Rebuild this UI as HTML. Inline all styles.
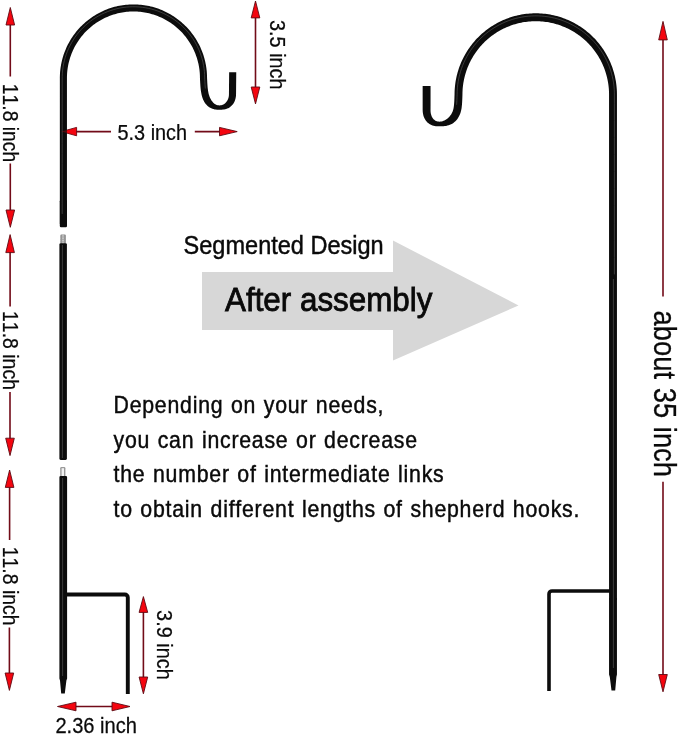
<!DOCTYPE html>
<html>
<head>
<meta charset="utf-8">
<title>Segmented Design</title>
<style>
html,body{margin:0;padding:0;background:#fff;}
body{width:679px;height:736px;overflow:hidden;font-family:"Liberation Sans",sans-serif;}
svg{display:block;position:absolute;left:0;top:0;will-change:transform;opacity:0.999;}
text{font-family:"Liberation Sans",sans-serif;fill:#0a0a0a;font-kerning:none;}
.rod{fill:none;stroke:#0c0c0c;stroke-linecap:butt;stroke-linejoin:round;}
.hl{fill:none;stroke:#585858;stroke-width:0.9;stroke-linecap:butt;opacity:.7;}
.al{stroke:#720b18;stroke-width:1.6;fill:none;}
.ah{fill:#f4050f;stroke:#5e0a13;stroke-width:0.9;stroke-linejoin:miter;}
</style>
</head>
<body>
<svg width="679" height="736" viewBox="0 0 679 736">
<rect width="679" height="736" fill="#ffffff"/>

<!-- big gray arrow -->
<polygon points="202,272 393,272 393,240.5 518.5,305.5 393,360.5 393,330 202,330" fill="#d7d7d7"/>

<!-- arrow under rod -->
<polygon class="ah" points="61.5,131.6 76.6,127.4 76.6,135.8"/>

<!-- LEFT HOOK -->
<g id="lefthook">
<polygon id="lh-poly" fill="#0c0c0c" points="66.95,224.00 66.95,218.97 66.95,213.93 66.95,208.90 66.95,203.86 66.95,198.83 66.95,193.79 66.95,188.76 66.95,183.72 66.95,178.69 66.95,173.66 66.95,168.62 66.95,163.59 66.95,158.55 66.95,153.52 66.95,148.48 66.95,143.45 66.95,138.41 66.95,133.38 66.95,128.34 66.95,123.31 66.95,118.28 66.95,113.24 66.95,108.21 66.95,103.17 66.95,98.14 66.95,93.10 66.95,88.07 66.95,83.03 66.95,78.01 66.97,76.50 67.02,75.00 67.10,73.49 67.22,72.00 67.37,70.50 67.56,69.01 67.78,67.52 68.03,66.04 68.32,64.57 68.64,63.10 68.99,61.64 69.38,60.18 69.80,58.74 70.25,57.31 70.74,55.88 71.25,54.47 71.80,53.07 72.38,51.69 72.99,50.31 73.63,48.95 74.30,47.61 75.00,46.28 75.73,44.97 76.50,43.67 77.29,42.39 78.11,41.13 78.95,39.89 79.83,38.67 80.73,37.47 81.66,36.29 82.62,35.13 83.60,33.99 84.60,32.87 85.64,31.78 86.69,30.71 87.77,29.67 88.88,28.65 90.01,27.65 91.15,26.68 92.32,25.74 93.52,24.83 94.73,23.94 95.96,23.08 97.21,22.24 98.48,21.44 99.77,20.66 101.07,19.91 102.39,19.20 103.73,18.51 105.08,17.85 106.45,17.23 107.83,16.63 109.22,16.07 110.63,15.54 112.04,15.04 113.47,14.57 114.91,14.14 116.36,13.73 117.82,13.36 119.28,13.03 120.75,12.72 122.23,12.45 123.72,12.22 125.20,12.01 126.70,11.84 128.20,11.71 129.69,11.61 131.20,11.54 132.70,11.50 134.20,11.50 135.70,11.54 137.21,11.61 138.70,11.71 140.20,11.84 141.70,12.01 143.18,12.22 144.67,12.45 146.15,12.72 147.62,13.03 149.08,13.36 150.54,13.73 151.99,14.14 153.43,14.57 154.86,15.04 156.27,15.54 157.68,16.07 159.07,16.63 160.45,17.23 161.82,17.85 163.17,18.51 164.51,19.20 165.83,19.91 167.13,20.66 168.42,21.44 169.69,22.24 170.94,23.08 172.17,23.94 173.38,24.83 174.58,25.74 175.75,26.68 176.89,27.65 178.02,28.65 179.13,29.67 180.21,30.71 181.26,31.78 182.30,32.87 183.30,33.99 184.28,35.13 185.24,36.29 186.17,37.47 187.07,38.67 187.95,39.89 188.79,41.13 189.61,42.39 190.40,43.67 191.17,44.97 191.90,46.28 192.60,47.61 193.27,48.95 193.91,50.31 194.52,51.69 195.10,53.07 195.65,54.47 196.16,55.88 196.65,57.31 197.10,58.74 197.52,60.18 197.91,61.64 198.26,63.10 198.58,64.57 198.87,66.04 199.12,67.52 199.34,69.01 199.53,70.50 199.68,72.00 199.80,73.49 199.88,75.00 199.93,76.50 199.95,78.09 200.00,79.11 200.05,80.01 200.09,80.88 200.14,81.73 200.18,82.55 200.23,83.34 200.27,84.11 200.32,84.86 200.37,85.59 200.42,86.30 200.48,87.00 200.54,87.68 200.60,88.34 200.67,88.99 200.75,89.63 200.82,90.26 200.91,90.88 201.00,91.49 201.10,92.08 201.31,93.37 201.59,94.69 201.91,95.98 202.28,97.24 202.71,98.46 203.19,99.65 203.73,100.79 204.33,101.88 204.99,102.93 205.72,103.91 206.50,104.84 207.35,105.69 208.26,106.47 209.23,107.17 210.24,107.79 211.30,108.32 212.40,108.75 213.53,109.11 214.68,109.38 215.85,109.57 217.04,109.70 218.26,109.78 219.49,109.80 220.66,109.78 221.80,109.72 222.92,109.62 224.02,109.46 225.10,109.24 226.16,108.95 227.19,108.59 228.19,108.15 229.15,107.63 230.06,107.03 230.93,106.36 231.73,105.61 232.48,104.79 233.16,103.91 233.76,102.97 234.30,101.98 234.77,100.94 235.16,99.87 235.48,98.75 235.72,97.60 235.90,96.43 236.01,95.22 236.04,94.06 236.06,92.89 236.07,91.75 236.08,90.61 236.09,89.46 236.10,88.32 236.11,87.18 236.12,86.04 236.13,84.90 236.14,83.75 236.16,82.61 236.17,81.47 236.18,80.33 236.19,79.19 236.20,78.04 236.21,76.90 236.22,75.76 236.23,74.62 236.24,73.47 236.25,72.33 229.15,72.27 229.14,73.41 229.13,74.55 229.12,75.69 229.11,76.84 229.10,77.98 229.09,79.12 229.08,80.26 229.07,81.40 229.06,82.55 229.04,83.69 229.03,84.83 229.02,85.97 229.01,87.11 229.00,88.26 228.99,89.40 228.98,90.54 228.97,91.68 228.96,92.83 228.96,93.94 228.94,94.83 228.87,95.63 228.77,96.40 228.64,97.13 228.47,97.82 228.26,98.48 228.03,99.11 227.77,99.71 227.49,100.28 227.18,100.83 226.84,101.35 226.47,101.86 226.07,102.34 225.64,102.81 225.16,103.25 224.64,103.68 224.07,104.08 223.44,104.44 222.76,104.76 222.02,105.02 221.23,105.23 220.39,105.36 219.51,105.40 218.56,105.35 217.68,105.20 216.86,104.97 216.09,104.66 215.38,104.30 214.73,103.88 214.13,103.43 213.57,102.93 213.04,102.41 212.55,101.85 212.08,101.26 211.63,100.63 211.20,99.97 210.79,99.27 210.40,98.53 210.02,97.74 209.66,96.91 209.33,96.03 209.03,95.11 208.75,94.14 208.51,93.13 208.29,92.08 208.10,90.92 208.01,90.39 207.94,89.87 207.86,89.34 207.79,88.79 207.73,88.22 207.67,87.63 207.61,87.03 207.55,86.40 207.50,85.76 207.45,85.09 207.41,84.39 207.36,83.67 207.31,82.92 207.27,82.15 207.23,81.35 207.18,80.51 207.14,79.65 207.09,78.75 207.05,77.91 207.03,76.34 206.97,74.67 206.88,73.01 206.75,71.36 206.58,69.70 206.37,68.05 206.13,66.40 205.85,64.76 205.53,63.13 205.18,61.51 204.79,59.89 204.36,58.28 203.90,56.68 203.40,55.10 202.86,53.52 202.29,51.96 201.68,50.41 201.04,48.88 200.37,47.36 199.66,45.85 198.91,44.36 198.14,42.89 197.33,41.44 196.49,40.01 195.61,38.59 194.70,37.20 193.77,35.82 192.80,34.47 191.80,33.14 190.77,31.83 189.71,30.55 188.63,29.29 187.51,28.06 186.37,26.85 185.20,25.66 184.00,24.51 182.78,23.38 181.53,22.28 180.26,21.21 178.97,20.16 177.65,19.15 176.31,18.16 174.94,17.21 173.56,16.29 172.15,15.40 170.73,14.54 169.29,13.71 167.82,12.92 166.34,12.16 164.85,11.43 163.34,10.74 161.81,10.08 160.27,9.46 158.71,8.87 157.14,8.32 155.56,7.80 153.97,7.32 152.37,6.87 150.75,6.46 149.13,6.09 147.50,5.75 145.87,5.45 144.22,5.19 142.58,4.97 140.92,4.78 139.27,4.63 137.61,4.52 135.94,4.44 134.28,4.40 132.62,4.40 130.96,4.44 129.29,4.52 127.63,4.63 125.98,4.78 124.32,4.97 122.68,5.19 121.03,5.45 119.40,5.75 117.77,6.09 116.15,6.46 114.53,6.87 112.93,7.32 111.34,7.80 109.76,8.32 108.19,8.87 106.63,9.46 105.09,10.08 103.56,10.74 102.05,11.43 100.56,12.16 99.08,12.92 97.61,13.71 96.17,14.54 94.75,15.40 93.34,16.29 91.96,17.21 90.59,18.16 89.25,19.15 87.93,20.16 86.64,21.21 85.37,22.28 84.12,23.38 82.90,24.51 81.70,25.66 80.53,26.85 79.39,28.06 78.27,29.29 77.19,30.55 76.13,31.83 75.10,33.14 74.10,34.47 73.13,35.82 72.20,37.20 71.29,38.59 70.41,40.01 69.57,41.44 68.76,42.89 67.99,44.36 67.24,45.85 66.53,47.36 65.86,48.88 65.22,50.41 64.61,51.96 64.04,53.52 63.50,55.10 63.00,56.68 62.54,58.28 62.11,59.89 61.72,61.51 61.37,63.13 61.05,64.76 60.77,66.40 60.53,68.05 60.32,69.70 60.15,71.36 60.02,73.01 59.93,74.67 59.87,76.34 59.85,77.99 59.85,83.03 59.85,88.07 59.85,93.10 59.85,98.14 59.85,103.17 59.85,108.21 59.85,113.24 59.85,118.28 59.85,123.31 59.85,128.34 59.85,133.38 59.85,138.41 59.85,143.45 59.85,148.48 59.85,153.52 59.85,158.55 59.85,163.59 59.85,168.62 59.85,173.66 59.85,178.69 59.85,183.72 59.85,188.76 59.85,193.79 59.85,198.83 59.85,203.86 59.85,208.90 59.85,213.93 59.85,218.97 59.85,224.00"/>
<rect x="59.8" y="200" width="7.2" height="27.2" rx="1.2" fill="#0c0c0c"/>
<path id="lh-hl" class="hl" d="M62.20 213.93 L62.20 203.86 L62.20 193.79 L62.20 183.72 L62.20 173.66 L62.20 163.59 L62.20 153.52 L62.20 143.45 L62.20 133.38 L62.20 123.31 L62.20 113.24 L62.20 103.17 L62.20 93.10 L62.20 83.03 L62.22 76.39 L62.36 73.17 L62.65 69.97 L63.09 66.77 L63.67 63.61 L64.39 60.47 L65.25 57.37 L66.26 54.30 L67.39 51.29 L68.67 48.34 L70.08 45.44 L71.61 42.61 L73.27 39.85 L75.06 37.17 L76.96 34.57 L78.98 32.06 L81.12 29.65 L83.35 27.33 L85.69 25.12 L88.13 23.02 L90.66 21.03 L93.28 19.15 L95.98 17.40 L98.76 15.77 L101.61 14.26 L104.52 12.89 L107.49 11.65 L110.52 10.54 L113.59 9.57 L116.70 8.75 L119.85 8.06 L123.02 7.52 L126.22 7.12 L129.43 6.86 L132.64 6.75 L135.87 6.79 L139.08 6.97 L142.28 7.30 L145.47 7.77 L148.63 8.39 L151.76 9.14 L154.85 10.04 L157.90 11.08 L160.90 12.25 L163.85 13.56 L166.73 15.00 L169.54 16.57 L172.28 18.26 L174.94 20.07 L177.51 22.01 L180.00 24.06 L182.39 26.22 L184.68 28.48 L186.86 30.85 L188.94 33.31 L190.90 35.86 L192.75 38.50 L194.47 41.22 L196.07 44.01 L197.54 46.88 L198.88 49.81 L200.09 52.79 L201.16 55.83 L202.10 58.91 L202.89 62.03 L203.54 65.19 L204.05 68.37 L204.41 71.57 L204.63 74.78 L204.70 77.97 L204.79 79.77 L204.88 81.47 L204.97 83.06 L205.06 84.55 L205.16 85.94 L205.27 87.24 L205.39 88.47"/>
<!-- screw 1 -->
<rect x="60.4" y="234.6" width="5.4" height="9.4" rx="1" fill="#8a8a8a"/>
<rect x="61.8" y="235.2" width="2.4" height="8.8" fill="#c4c4c4"/>
<path d="M60.4 237 H65.8 M60.4 239.4 H65.8 M60.4 241.8 H65.8" stroke="#9a9a9a" stroke-width="0.7" fill="none"/>
<!-- seg 2 -->
<rect x="59.4" y="243.3" width="7.5" height="216.6" rx="1.3" fill="#0c0c0c"/>
<path class="hl" d="M62.4 245 L62.4 458"/>
<!-- screw 2 -->
<rect x="60.2" y="467" width="5.2" height="10" rx="1.2" fill="#9a9a9a"/>
<rect x="61.6" y="468.2" width="2.4" height="8.8" fill="#f2f2f2"/>
<!-- seg 3 with taper -->
<path d="M60.6 476 H65.9 A1.2 1.2 0 0 1 67.1 477.2 V678.5 L66.4 680.5 L64.8 693.5 H61.2 L60 680.5 L59.4 678.5 V477.2 A1.2 1.2 0 0 1 60.6 476 Z" fill="#0c0c0c"/>
<path class="hl" d="M62.6 478 L62.6 676"/>
<!-- prong -->
<path class="rod" stroke-width="3.9" d="M64 594.5 L124.8 594.5 A3 3 0 0 1 127.8 597.5 L127.8 694"/>
</g>
<polygon points="61.5,131.6 76.6,127.4 76.6,135.8" fill="#f20a16" opacity="0.28"/>

<!-- RIGHT HOOK -->
<g id="righthook">
<polygon id="rh-poly" fill="#0c0c0c" points="616.95,600.00 616.95,591.43 616.95,582.86 616.95,574.30 616.95,565.73 616.95,557.16 616.95,548.59 616.95,540.03 616.95,531.46 616.95,522.89 616.95,514.32 616.95,505.75 616.95,497.19 616.95,488.62 616.95,480.05 616.95,471.48 616.95,462.92 616.95,454.35 616.95,445.78 616.95,437.21 616.95,428.64 616.95,420.08 616.95,411.51 616.95,402.94 616.95,394.37 616.95,385.81 616.95,377.24 616.95,368.67 616.95,360.10 616.95,351.53 616.95,342.97 616.95,334.40 616.95,325.83 616.95,317.26 616.95,308.69 616.95,300.13 616.95,291.56 616.95,282.99 616.95,274.42 616.95,265.86 616.95,257.29 616.95,248.72 616.95,240.15 616.95,231.58 616.95,223.02 616.95,214.45 616.95,205.88 616.95,197.31 616.95,188.75 616.95,180.18 616.95,171.61 616.95,163.04 616.95,154.47 616.95,145.91 616.95,137.34 616.95,128.77 616.95,120.20 616.95,111.64 616.95,103.07 616.95,94.49 616.93,92.79 616.88,91.08 616.79,89.37 616.66,87.66 616.50,85.96 616.30,84.26 616.07,82.56 615.80,80.87 615.49,79.18 615.15,77.51 614.78,75.84 614.36,74.17 613.92,72.52 613.44,70.88 612.92,69.25 612.37,67.62 611.79,66.01 611.17,64.42 610.52,62.83 609.84,61.26 609.12,59.71 608.37,58.17 607.59,56.65 606.77,55.14 605.93,53.65 605.05,52.18 604.14,50.73 603.21,49.30 602.24,47.89 601.24,46.50 600.21,45.13 599.16,43.78 598.07,42.45 596.96,41.15 595.83,39.87 594.66,38.62 593.47,37.39 592.25,36.18 591.01,35.00 589.74,33.85 588.45,32.73 587.14,31.63 585.80,30.56 584.44,29.52 583.06,28.51 581.66,27.52 580.24,26.57 578.80,25.65 577.33,24.76 575.85,23.90 574.36,23.07 572.84,22.27 571.31,21.50 569.76,20.77 568.20,20.07 566.63,19.40 565.04,18.77 563.43,18.16 561.82,17.60 560.19,17.07 558.55,16.57 556.90,16.10 555.25,15.68 553.58,15.28 551.91,14.92 550.22,14.60 548.54,14.31 546.84,14.06 545.15,13.85 543.44,13.67 541.74,13.52 540.03,13.41 538.32,13.34 536.61,13.30 534.89,13.30 533.18,13.34 531.47,13.41 529.76,13.52 528.06,13.67 526.35,13.85 524.66,14.06 522.96,14.31 521.28,14.60 519.59,14.92 517.92,15.28 516.25,15.68 514.60,16.10 512.95,16.57 511.31,17.07 509.68,17.60 508.07,18.16 506.46,18.77 504.87,19.40 503.30,20.07 501.74,20.77 500.19,21.50 498.66,22.27 497.14,23.07 495.65,23.90 494.17,24.76 492.70,25.65 491.26,26.57 489.84,27.52 488.44,28.51 487.06,29.52 485.70,30.56 484.36,31.63 483.05,32.73 481.76,33.85 480.49,35.00 479.25,36.18 478.03,37.39 476.84,38.62 475.67,39.87 474.54,41.15 473.43,42.45 472.34,43.78 471.29,45.13 470.26,46.50 469.26,47.89 468.29,49.30 467.36,50.73 466.45,52.18 465.57,53.65 464.73,55.14 463.91,56.65 463.13,58.17 462.38,59.71 461.66,61.26 460.98,62.83 460.33,64.42 459.71,66.01 459.13,67.62 458.58,69.25 458.06,70.88 457.58,72.52 457.14,74.17 456.72,75.84 456.35,77.51 456.01,79.18 455.70,80.87 455.43,82.56 455.20,84.26 455.00,85.96 454.84,87.66 454.71,89.37 454.62,91.08 454.57,92.79 454.55,94.42 454.52,95.21 454.49,96.05 454.46,96.86 454.43,97.64 454.41,98.40 454.38,99.14 454.34,99.86 454.31,100.57 454.28,101.25 454.24,101.92 454.20,102.57 454.15,103.21 454.10,103.84 454.05,104.45 453.99,105.06 453.92,105.65 453.85,106.25 453.78,106.83 453.71,107.33 453.50,108.46 453.25,109.49 452.96,110.46 452.63,111.39 452.26,112.27 451.86,113.11 451.42,113.90 450.95,114.64 450.46,115.36 449.93,116.03 449.38,116.68 448.79,117.30 448.18,117.89 447.52,118.46 446.83,119.01 446.09,119.53 445.29,120.02 444.45,120.46 443.54,120.86 442.58,121.19 441.57,121.44 440.51,121.60 439.40,121.65 438.48,121.60 437.61,121.47 436.82,121.26 436.08,120.98 435.42,120.65 434.82,120.28 434.28,119.87 433.79,119.44 433.36,118.98 432.97,118.51 432.62,118.01 432.30,117.50 432.01,116.96 431.75,116.40 431.51,115.82 431.29,115.20 431.10,114.56 430.93,113.88 430.79,113.17 430.67,112.43 430.59,111.65 430.55,110.84 430.53,109.96 430.54,108.74 430.54,107.47 430.55,106.21 430.55,104.95 430.55,103.68 430.55,102.42 430.55,101.16 430.55,99.89 430.55,98.63 430.55,97.37 430.55,96.11 430.55,94.84 430.55,93.58 430.55,92.32 430.55,91.05 430.55,89.79 430.55,88.53 430.55,87.26 430.55,86.00 422.65,86.00 422.65,87.26 422.65,88.53 422.65,89.79 422.65,91.05 422.65,92.32 422.65,93.58 422.65,94.84 422.65,96.11 422.65,97.37 422.65,98.63 422.65,99.89 422.65,101.16 422.65,102.42 422.65,103.68 422.65,104.95 422.65,106.21 422.66,107.47 422.66,108.74 422.67,110.04 422.70,111.22 422.81,112.43 422.97,113.61 423.21,114.77 423.51,115.90 423.89,117.01 424.33,118.07 424.85,119.09 425.45,120.06 426.11,120.98 426.85,121.84 427.65,122.63 428.52,123.35 429.44,123.99 430.41,124.54 431.43,125.02 432.48,125.41 433.57,125.73 434.68,125.97 435.82,126.15 436.98,126.27 438.18,126.33 439.40,126.35 440.77,126.34 442.12,126.29 443.45,126.21 444.77,126.07 446.08,125.88 447.37,125.60 448.64,125.25 449.88,124.80 451.09,124.26 452.26,123.63 453.37,122.91 454.43,122.09 455.43,121.19 456.36,120.21 457.22,119.15 458.01,118.03 458.73,116.84 459.38,115.60 459.95,114.30 460.45,112.95 460.87,111.55 461.22,110.11 461.49,108.67 461.60,107.91 461.69,107.22 461.77,106.54 461.85,105.86 461.91,105.18 461.97,104.49 462.03,103.80 462.08,103.10 462.12,102.39 462.16,101.68 462.20,100.96 462.24,100.22 462.27,99.47 462.30,98.71 462.33,97.94 462.36,97.14 462.39,96.33 462.42,95.50 462.45,94.58 462.47,92.95 462.52,91.41 462.60,89.87 462.71,88.33 462.86,86.79 463.04,85.25 463.25,83.72 463.49,82.19 463.77,80.67 464.07,79.16 464.41,77.65 464.78,76.15 465.19,74.66 465.62,73.18 466.09,71.70 466.58,70.24 467.11,68.79 467.67,67.34 468.25,65.91 468.87,64.50 469.52,63.09 470.20,61.71 470.90,60.33 471.64,58.97 472.40,57.63 473.19,56.30 474.01,54.99 474.86,53.70 475.73,52.42 476.63,51.17 477.56,49.93 478.51,48.71 479.49,47.52 480.49,46.34 481.52,45.19 482.57,44.05 483.65,42.94 484.75,41.86 485.87,40.79 487.01,39.75 488.17,38.74 489.36,37.75 490.57,36.78 491.79,35.84 493.04,34.93 494.31,34.04 495.59,33.18 496.89,32.35 498.21,31.54 499.55,30.76 500.90,30.02 502.27,29.29 503.65,28.60 505.04,27.94 506.45,27.31 507.88,26.71 509.31,26.13 510.76,25.59 512.22,25.08 513.69,24.60 515.17,24.15 516.65,23.73 518.15,23.34 519.65,22.99 521.17,22.67 522.68,22.37 524.21,22.11 525.74,21.89 527.27,21.69 528.81,21.53 530.35,21.40 531.89,21.30 533.43,21.24 534.98,21.20 536.52,21.20 538.07,21.24 539.61,21.30 541.15,21.40 542.69,21.53 544.23,21.69 545.76,21.89 547.29,22.11 548.82,22.37 550.33,22.67 551.85,22.99 553.35,23.34 554.85,23.73 556.33,24.15 557.81,24.60 559.28,25.08 560.74,25.59 562.19,26.13 563.62,26.71 565.05,27.31 566.46,27.94 567.85,28.60 569.23,29.29 570.60,30.02 571.95,30.76 573.29,31.54 574.61,32.35 575.91,33.18 577.19,34.04 578.46,34.93 579.71,35.84 580.93,36.78 582.14,37.75 583.33,38.74 584.49,39.75 585.63,40.79 586.75,41.86 587.85,42.94 588.93,44.05 589.98,45.19 591.01,46.34 592.01,47.52 592.99,48.71 593.94,49.93 594.87,51.17 595.77,52.42 596.64,53.70 597.49,54.99 598.31,56.30 599.10,57.63 599.86,58.97 600.60,60.33 601.30,61.71 601.98,63.09 602.63,64.50 603.25,65.91 603.83,67.34 604.39,68.79 604.92,70.24 605.41,71.70 605.88,73.18 606.31,74.66 606.72,76.15 607.09,77.65 607.43,79.16 607.73,80.67 608.01,82.19 608.25,83.72 608.46,85.25 608.64,86.79 608.79,88.33 608.90,89.87 608.98,91.41 609.03,92.95 609.05,94.51 609.05,103.07 609.05,111.64 609.05,120.20 609.05,128.77 609.05,137.34 609.05,145.91 609.05,154.47 609.05,163.04 609.05,171.61 609.05,180.18 609.05,188.75 609.05,197.31 609.05,205.88 609.05,214.45 609.05,223.02 609.05,231.58 609.05,240.15 609.05,248.72 609.05,257.29 609.05,265.86 609.05,274.42 609.05,282.99 609.05,291.56 609.05,300.13 609.05,308.69 609.05,317.26 609.05,325.83 609.05,334.40 609.05,342.97 609.05,351.53 609.05,360.10 609.05,368.67 609.05,377.24 609.05,385.81 609.05,394.37 609.05,402.94 609.05,411.51 609.05,420.08 609.05,428.64 609.05,437.21 609.05,445.78 609.05,454.35 609.05,462.92 609.05,471.48 609.05,480.05 609.05,488.62 609.05,497.19 609.05,505.75 609.05,514.32 609.05,522.89 609.05,531.46 609.05,540.03 609.05,548.59 609.05,557.16 609.05,565.73 609.05,574.30 609.05,582.86 609.05,591.43 609.05,600.00"/>
<polygon points="609.05,598 616.95,598 616.95,674.5 616.4,677 615.2,690.5 611.5,690.5 609.8,677 609.05,674.5" fill="#0c0c0c"/>
<path id="rh-hl" class="hl" d="M614.40 274.42 L614.40 257.29 L614.40 240.15 L614.40 223.02 L614.40 205.88 L614.40 188.75 L614.40 171.61 L614.40 154.47 L614.40 137.34 L614.40 120.20 L614.40 103.07 L614.38 92.84 L614.24 89.53 L613.96 86.22 L613.54 82.93 L612.99 79.66 L612.29 76.42 L611.46 73.21 L610.50 70.04 L609.40 66.91 L608.17 63.83 L606.82 60.80 L605.33 57.84 L603.72 54.94 L602.00 52.11 L600.15 49.35 L598.19 46.68 L596.12 44.09 L593.94 41.59 L591.66 39.18 L589.27 36.87 L586.80 34.67 L584.23 32.57 L581.58 30.58 L578.84 28.70 L576.03 26.95 L573.14 25.31 L570.19 23.79 L567.18 22.40 L564.12 21.14 L561.00 20.01 L557.84 19.01 L554.63 18.15 L551.40 17.42 L548.14 16.83 L544.85 16.38 L541.55 16.06 L538.24 15.89 L534.92 15.85 L531.61 15.96 L528.30 16.20 L525.00 16.59 L521.73 17.11 L518.48 17.77 L515.26 18.57 L512.08 19.50 L508.94 20.56 L505.84 21.76 L502.80 23.08 L499.82 24.54 L496.90 26.11 L494.06 27.81 L491.28 29.63 L488.59 31.56 L485.98 33.60 L483.45 35.76 L481.02 38.01 L478.69 40.37 L476.46 42.82 L474.33 45.37 L472.32 48.00 L470.41 50.72 L468.62 53.51 L466.96 56.38 L465.41 59.31 L463.99 62.31 L462.70 65.36 L461.53 68.47 L460.50 71.62 L459.60 74.81 L458.84 78.04 L458.22 81.30 L457.73 84.58 L457.38 87.87 L457.17 91.18 L457.10 94.47 L457.04 96.14 L456.98 97.74 L456.92 99.25 L456.86 100.69 L456.78 102.07 L456.69 103.40 L456.59 104.69"/>
<path class="hl" d="M613.4 279 L613.4 668"/>
<path class="rod" stroke-width="3.6" d="M612 591 L552 591 A3 3 0 0 0 549 594 L549 691"/>
</g>

<!-- RED ARROWS -->
<g id="arrows">
<!-- left column -->
<path class="al" d="M10.3 24 L10.3 76.5 M10.3 163.5 L10.3 211 M10.1 252 L10.1 306.5 M10 392 L10 439 M9.6 487 L9.6 540 M9.4 627.5 L9.4 674"/>
<polygon class="ah" points="10.3,7.5 14.6,25 6,25"/>
<polygon class="ah" points="10.3,227.3 14.6,210 6,210"/>
<polygon class="ah" points="10.1,234.6 14.4,252.6 5.8,252.6"/>
<polygon class="ah" points="10,455.6 14.3,438.2 5.7,438.2"/>
<polygon class="ah" points="9.6,470 13.9,487.4 5.3,487.4"/>
<polygon class="ah" points="9.4,690.4 13.7,673 5.1,673"/>
<!-- 3.5 inch -->
<path class="al" d="M255.5 17 L255.5 88"/>
<polygon class="ah" points="255.5,1 259.8,17.9 251.2,17.9"/>
<polygon class="ah" points="255.5,103.9 259.8,87 251.2,87"/>
<!-- 5.3 inch -->
<path class="al" d="M76 131.6 L111 131.6 M194.8 131.6 L220 131.6"/>
<polygon class="ah" points="237.2,131.6 219.5,127.4 219.5,135.8"/>
<!-- 3.9 inch -->
<path class="al" d="M143.4 611 L143.4 678"/>
<polygon class="ah" points="143.4,596.6 147.7,612.4 139.1,612.4"/>
<polygon class="ah" points="143.4,693.8 147.7,677 139.1,677"/>
<!-- 2.36 inch -->
<path class="al" d="M75 706.5 L113 706.5"/>
<polygon class="ah" points="57.5,706.5 76,702.2 76,710.8"/>
<polygon class="ah" points="130,706.5 112,702.2 112,710.8"/>
<!-- right long -->
<path class="al" d="M663 39 L663 296.5 M663 481.7 L663 675.5"/>
<polygon class="ah" points="663,21.4 667.3,39.9 658.7,39.9"/>
<polygon class="ah" points="663,691.8 667.3,674.5 658.7,674.5"/>
</g>

<!-- TEXT -->
<g id="labels" font-size="21.5" stroke="#0a0a0a" stroke-width="0.25">
<text transform="translate(2.9,83.8) rotate(90) scale(0.9,1)">11.8 inch</text>
<text transform="translate(2.9,311.0) rotate(90) scale(0.905,1)">11.8 inch</text>
<text transform="translate(2.5,546.7) rotate(90) scale(0.905,1)">11.8 inch</text>
<text transform="translate(269.8,20.0) rotate(90) scale(0.925,1)">3.5 inch</text>
<text transform="translate(117.5,139.9) scale(0.925,1)">5.3 inch</text>
<text transform="translate(156.6,610.1) rotate(90) scale(0.925,1)">3.9 inch</text>
<text transform="translate(55.4,733.4) scale(0.935,1)">2.36 inch</text>
</g>
<text font-size="31.5" transform="translate(654.3,310.6) rotate(90) scale(0.868,1)" word-spacing="1.3" stroke="#0a0a0a" stroke-width="0.3">about 35 inch</text>
<text font-size="24.9" transform="translate(183.6,253.7) scale(0.945,1)" stroke="#0a0a0a" stroke-width="0.45">Segmented Design</text>
<text font-size="34" transform="translate(225.0,310.9) scale(0.923,1)" stroke="#0a0a0a" stroke-width="0.85">After assembly</text>
<g font-size="23.5" letter-spacing="0.85" word-spacing="1.0" stroke="#0a0a0a" stroke-width="0.45">
<text transform="translate(113.5,413) scale(0.906,1)">Depending on your needs,</text>
<text transform="translate(113.5,447.5) scale(0.906,1)">you can increase or decrease</text>
<text transform="translate(113.5,482) scale(0.906,1)">the number of intermediate links</text>
<text transform="translate(113.5,516.6) scale(0.906,1)">to obtain different lengths of shepherd hooks.</text>
</g>
</svg>
</body>
</html>
